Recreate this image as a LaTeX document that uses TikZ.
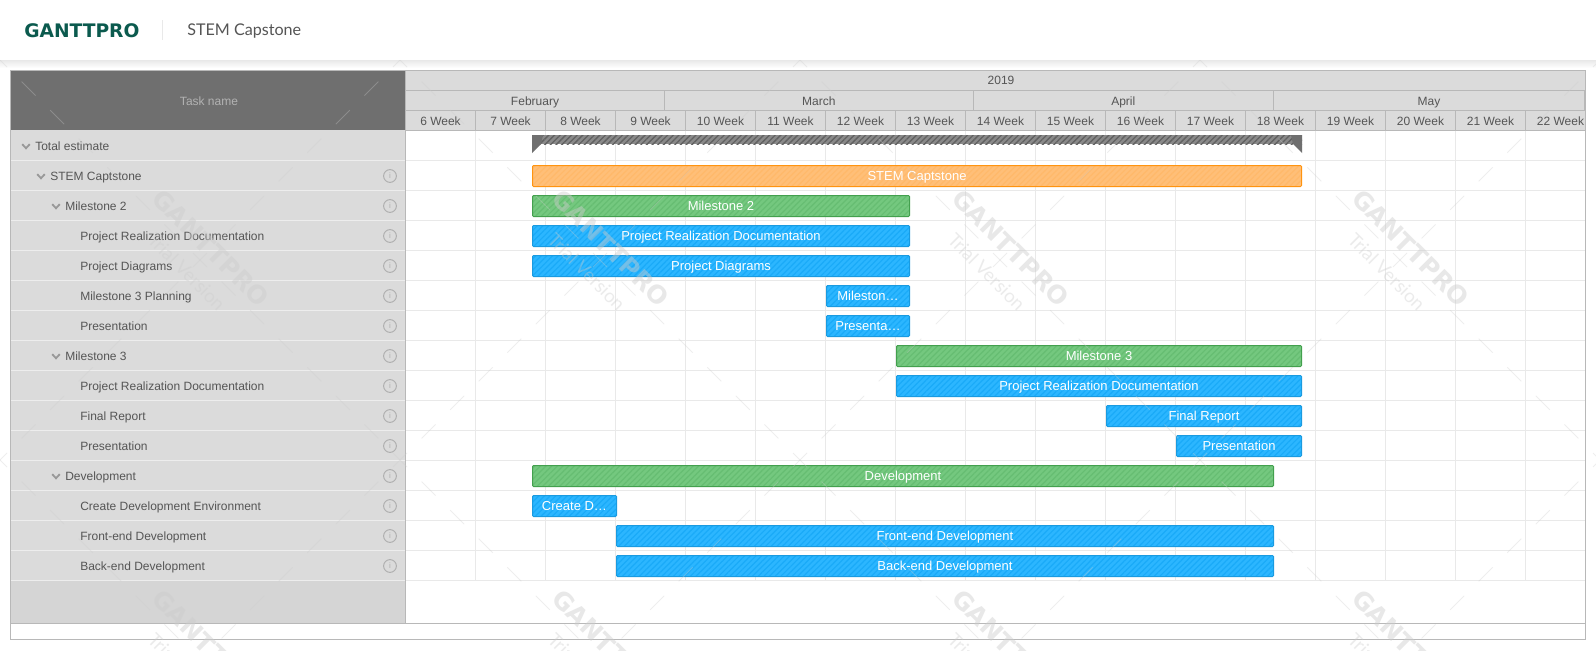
\documentclass[tikz,border=0pt]{standalone}
\usepackage{fontspec}
\setmainfont{Liberation Sans}
\newfontfamily\titlefont{Lato}
\newfontfamily\logofont{DejaVu Sans}
\usetikzlibrary{patterns.meta}

\definecolor{panelgray}{HTML}{DBDBDB}
\definecolor{panelend}{HTML}{D5D5D5}
\definecolor{headgray}{HTML}{6F6F6F}
\definecolor{framegray}{HTML}{B8B8B8}
\definecolor{gridgray}{HTML}{E9E9E9}
\definecolor{rowline}{HTML}{EDEDED}
\definecolor{labelgray}{HTML}{555555}
\definecolor{logogreen}{HTML}{0B5A4E}
\definecolor{wmgray}{HTML}{CCCCCC}
\definecolor{iconGray}{HTML}{B0B0B0}
\definecolor{foldGray}{HTML}{999999}
\definecolor{orangeedge}{HTML}{FF9410}
\definecolor{orangefill}{HTML}{FFBF78}
\definecolor{orangehatch}{HTML}{FFB96A}
\definecolor{greenedge}{HTML}{43A04E}
\definecolor{greenfill}{HTML}{74C87F}
\definecolor{greenhatch}{HTML}{66BD72}
\definecolor{blueedge}{HTML}{1A9BE0}
\definecolor{bluefill}{HTML}{2CB6FF}
\definecolor{bluehatch}{HTML}{1AAAF8}

\tikzset{
  onepx/.style={line width=0.75pt},
  task label/.style={anchor=base west,inner sep=0pt,text=labelgray,font=\fontsize{9pt}{11pt}\selectfont},
  head label/.style={anchor=base,inner sep=0pt,text=labelgray,font=\fontsize{9pt}{11pt}\selectfont},
  bar label/.style={midway,inner sep=0pt,text height=6pt,text depth=0pt,text=white,font=\fontsize{9.75pt}{11pt}\selectfont},
  hatched/.style n args={3}{onepx,rounded corners=0.75pt,draw=#1,preaction={fill=#2},pattern={Lines[angle=45,distance=3pt,line width=0.9pt]},pattern color=#3},
  orangebar/.style={hatched={orangeedge}{orangefill}{orangehatch}},
  greenbar/.style={hatched={greenedge}{greenfill}{greenhatch}},
  bluebar/.style={hatched={blueedge}{bluefill}{bluehatch}},
  info/.style={circle,draw=iconGray,line width=0.75pt,inner sep=0pt,minimum size=9.6pt,text=iconGray,font=\fontsize{6pt}{7pt}\selectfont},
  fold/.style={draw=foldGray,line width=1.4pt},
  wm line/.style={draw=wmgray,line width=0.6pt,opacity=0.32},
  wm logo/.style={rotate=-45,inner sep=0pt,text=wmgray,opacity=0.45,font=\logofont\bfseries\fontsize{18.6pt}{22pt}\selectfont},
  wm note/.style={rotate=-45,inner sep=0pt,text=wmgray,opacity=0.38,font=\titlefont\fontsize{14pt}{16pt}\selectfont},
}

\begin{document}
\begin{tikzpicture}[x=0.75pt,y=0.75pt,yscale=-1,xscale=1]
\useasboundingbox (0,0) rectangle (1596,650);
\fill [white] (0,0) rectangle (1596,650);

%Top bar
\draw (24,37) node [anchor=base west,inner sep=0pt,text=logogreen,font=\logofont\bfseries\fontsize{14pt}{16pt}\selectfont] (logo) {GANTTPRO};
\draw [draw=gridgray,onepx] (162.5,20) -- (162.5,40);
\draw (187,35) node [anchor=base west,inner sep=0pt,text=labelgray,font=\titlefont\fontsize{12.1pt}{14pt}\selectfont] (title) {STEM Capstone};
\shade [top color=black!9,bottom color=white] (0,60) rectangle (1596,68);

%Left panel
\fill [panelgray] (11,71) rectangle (405,580);
\fill [panelend] (11,580) rectangle (405,623);
\fill [headgray] (11,71) rectangle (405,130);
\draw (209,105) node [head label,text=black!30] (taskname) {Task name};

%Timeline header
\fill [panelgray] (405,71) rectangle (1585,130);
\draw [draw=framegray,onepx] (405.5,90.5) -- (1585.5,90.5) (405.5,110.5) -- (1585.5,110.5) (405.5,130.5) -- (1585.5,130.5);
\draw [draw=framegray,onepx] (664.5,90.5) -- (664.5,110.5) (973.5,90.5) -- (973.5,110.5) (1273.5,90.5) -- (1273.5,110.5) (1584.5,90.5) -- (1584.5,110.5);
\draw (1001,84) node [head label] (year) {2019};
\draw (535,105) node [head label] (feb) {February};
\draw (818.8,105) node [head label] (mar) {March};
\draw (1123.3,105) node [head label] (apr) {April};
\draw (1429,105) node [head label] (may) {May};

%Grid
\foreach \r in {1,...,15} {
  \draw [draw=rowline,onepx] (11,130.5+30*\r) -- (405,130.5+30*\r);
  \draw [draw=gridgray,onepx] (405,130.5+30*\r) -- (1585,130.5+30*\r);
}
\foreach \w [count=\i from 0] in {6,...,22} {
  \draw [draw=framegray,onepx] (405.5+70*\i,110.5) -- (405.5+70*\i,130.5);
  \ifnum\i>0 \draw [draw=gridgray,onepx] (405.5+70*\i,130.5) -- (405.5+70*\i,580.5); \fi
  \draw (440.5+70*\i,125) node [head label] (week\w) {\w{} Week};
}

% Task names
\draw (35,150) node [task label] (row1) {Total estimate};
\draw (50,180) node [task label] (row2) {STEM Captstone};
\draw (65,210) node [task label] (row3) {Milestone 2};
\draw (80,240) node [task label] (row4) {Project Realization Documentation};
\draw (80,270) node [task label] (row5) {Project Diagrams};
\draw (80,300) node [task label] (row6) {Milestone 3 Planning};
\draw (80,330) node [task label] (row7) {Presentation};
\draw (65,360) node [task label] (row8) {Milestone 3};
\draw (80,390) node [task label] (row9) {Project Realization Documentation};
\draw (80,420) node [task label] (row10) {Final Report};
\draw (80,450) node [task label] (row11) {Presentation};
\draw (65,480) node [task label] (row12) {Development};
\draw (80,510) node [task label] (row13) {Create Development Environment};
\draw (80,540) node [task label] (row14) {Front-end Development};
\draw (80,570) node [task label] (row15) {Back-end Development};

%Fold marks and info icons
\foreach \x/\y in {26/146,41/176,56/206,56/356,56/476} {
  \draw [fold] (\x-3.8,\y-1.8) -- (\x,\y+2.2) -- (\x+3.8,\y-1.8);
}
\foreach \r in {2,...,15} {
  \draw (390,146+30*\r-30) node [info] (info\r) {i};
}

%Summary bar
\fill [pattern={Lines[angle=45,distance=3pt,line width=1pt]},pattern color=black!62,preaction={fill=black!46}] (532,135) rectangle (1302,144);
\fill [headgray] (532,135) -- (543,135) -- (541,144) -- (532,153) -- cycle;
\fill [headgray] (1302,135) -- (1291,135) -- (1293,144) -- (1302,153) -- cycle;

%Bars
\draw [orangebar] (532.5,165.5) rectangle (1301.5,186.5) node [bar label] (bar2) {STEM Captstone};
\draw [greenbar] (532.5,195.5) rectangle (909.5,216.5) node [bar label] (bar3) {Milestone 2};
\draw [bluebar] (532.5,225.5) rectangle (909.5,246.5) node [bar label] (bar4) {Project Realization Documentation};
\draw [bluebar] (532.5,255.5) rectangle (909.5,276.5) node [bar label] (bar5) {Project Diagrams};
\draw [bluebar] (826.5,285.5) rectangle (909.5,306.5) node [bar label] (bar6) {Mileston…};
\draw [bluebar] (826.5,315.5) rectangle (909.5,336.5) node [bar label] (bar7) {Presenta…};
\draw [greenbar] (896.5,345.5) rectangle (1301.5,366.5) node [bar label] (bar8) {Milestone 3};
\draw [bluebar] (896.5,375.5) rectangle (1301.5,396.5) node [bar label] (bar9) {Project Realization Documentation};
\draw [bluebar] (1106.5,405.5) rectangle (1301.5,426.5) node [bar label] (bar10) {Final Report};
\draw [bluebar] (1176.5,435.5) rectangle (1301.5,456.5) node [bar label] (bar11) {Presentation};
\draw [greenbar] (532.5,465.5) rectangle (1273.5,486.5) node [bar label] (bar12) {Development};
\draw [bluebar] (532.5,495.5) rectangle (616.5,516.5) node [bar label] (bar13) {Create D…};
\draw [bluebar] (616.5,525.5) rectangle (1273.5,546.5) node [bar label] (bar14) {Front-end Development};
\draw [bluebar] (616.5,555.5) rectangle (1273.5,576.5) node [bar label] (bar15) {Back-end Development};

%Frame
\draw [draw=framegray,onepx] (10.5,70.5) rectangle (1585.5,639.5);
\draw [draw=framegray,onepx] (10.5,623.5) -- (1585.5,623.5);
\draw [draw=framegray,onepx] (405.5,70.5) -- (405.5,623.5);

%Watermark
\begin{scope}
\clip (0,60) rectangle (1596,650);
\foreach \cx in {-200,200,600,1000,1400,1800} {
  \foreach \cy in {-140,260,660} {
    \foreach \k in {-7,...,6} {
      \draw [wm line] (\cx+\k*28.57-7,\cy+\k*28.57-7) -- ++(14,14);
      \draw [wm line] (\cx+\k*28.57-7,\cy-\k*28.57+7) -- ++(14,-14);
    }
  }
}
\foreach \cx in {200,600,1000,1400} {
  \foreach \cy in {260,660} {
    \node [wm logo] (logo\cx\cy) at (\cx+10.7,\cy-11.7) {GANTTPRO};
    \node [wm note] (note\cx\cy) at (\cx-13.3,\cy+11.7) {Trial Version};
  }
}
\end{scope}

\end{tikzpicture}
\end{document}
